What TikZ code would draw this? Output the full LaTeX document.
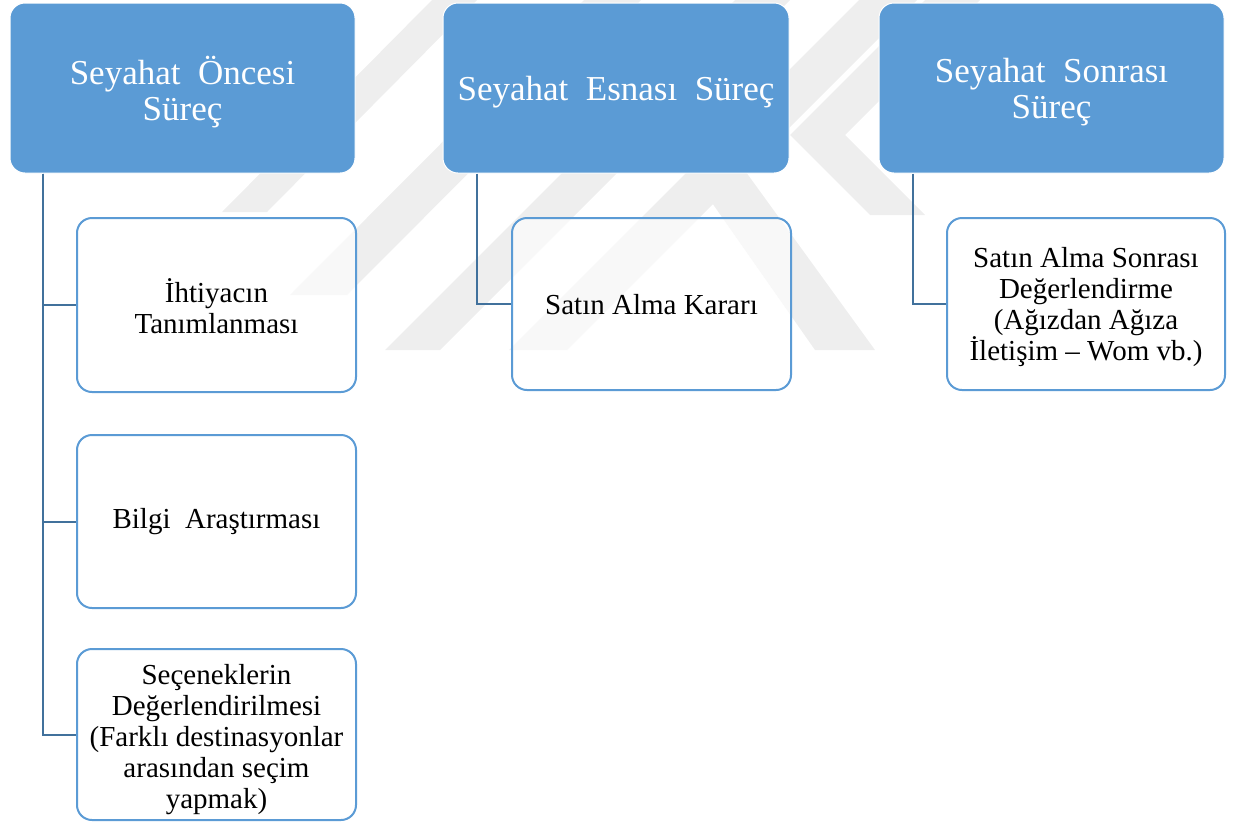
\documentclass[tikz,border=0pt]{standalone}
\usepackage{fontspec}
\setmainfont{Liberation Serif}
\usetikzlibrary{calc}
\definecolor{hdrblue}{HTML}{5B9BD5}
\definecolor{linkblue}{HTML}{41719C}
\definecolor{wmgray}{RGB}{238,238,238}

\begin{document}
\begin{tikzpicture}[x=1pt,y=-1pt,
  hdr/.style={draw=white, line width=1pt, fill=hdrblue, rounded corners=15pt,
    inner sep=0pt},
  hdrtext/.style={text=white, align=center, font=\fontsize{35}{36}\selectfont,
    inner sep=0pt},
  child/.style={draw=hdrblue, line width=2pt, fill=white, fill opacity=0.6,
    text opacity=1, rounded corners=15pt, inner sep=0pt},
  childtext/.style={align=center, font=\fontsize{29}{31}\selectfont, inner sep=0pt},
  link/.style={draw=linkblue, line width=2pt},
  wm/.style={fill=wmgray, draw=none}]
\useasboundingbox (0,0) rectangle (1243,823);

% faint background emblem
\fill[wm] (222,212) -- (267,212) -- (477,0) -- (432,0) -- cycle;
\fill[wm] (290,295) -- (347,295) -- (641,0) -- (584,0) -- cycle;
\fill[wm] (385,350) -- (440,350) -- (790,0) -- (735,0) -- cycle;
\fill[wm] (509,350) -- (567,350) -- (917,0) -- (859,0) -- cycle;
\fill[wm] (675,150) -- (730,150) -- (875,350) -- (815,350) -- cycle;
\fill[wm] (790,135) -- (925,0) -- (980,0) -- (845,135) -- (925,215) -- (870,215) -- cycle;

% stage headers
\node[hdr, minimum width=345, minimum height=170] (h1) at (182.5,88) {};
\node[hdr, minimum width=346, minimum height=170] (h2) at (616,88) {};
\node[hdr, minimum width=345, minimum height=170] (h3) at (1051.5,88) {};
\node[hdrtext] (t1) at ($(h1.center)+(0,4)$) {Seyahat\ \ Öncesi\\Süreç};
\node[hdrtext] (t2) at ($(h2.center)+(0,4)$) {Seyahat\ \ Esnası\ \ Süreç};
\node[hdrtext] (t3) at ($(h3.center)+(0,4)$) {Seyahat\ \ Sonrası\\Süreç};

% steps
\node[child, minimum width=279, minimum height=174] (c1) at (216.5,305) {};
\node[child, minimum width=279, minimum height=173] (c2) at (216.5,521.5) {};
\node[child, minimum width=279, minimum height=171] (c3) at (216.5,734.5) {};
\node[child, minimum width=279, minimum height=172] (c4) at (651.5,304) {};
\node[child, minimum width=278, minimum height=172] (c5) at (1086,304) {};
\node[childtext] (d1) at ($(c1.center)+(0,1)$) {İhtiyacın\\Tanımlanması};
\node[childtext] (d2) at ($(c2.center)+(0,0)$) {Bilgi\ \ Araştırması};
\node[childtext] (d3) at ($(c3.center)+(0,5)$)
  {Seçeneklerin\\Değerlendirilmesi\\(Farklı destinasyonlar\\arasından seçim\\yapmak)};
\node[childtext] (d4) at ($(c4.center)+(0,1)$) {Satın Alma Kararı};
\node[childtext] (d5) at ($(c5.center)+(0,3)$)
  {Satın Alma Sonrası\\Değerlendirme\\(Ağızdan Ağıza\\İletişim – Wom vb.)};

% connectors
\coordinate (s1) at ($(h1.south west)+(33,0)$);
\coordinate (s2) at ($(h2.south west)+(34,0)$);
\coordinate (s3) at ($(h3.south west)+(34,0)$);
\draw[link] (s1) |- (c1.west);
\draw[link] (s1) |- (c2.west);
\draw[link] (s1) |- (c3.west);
\draw[link] (s2) |- (c4.west);
\draw[link] (s3) |- (c5.west);
\end{tikzpicture}
\end{document}
